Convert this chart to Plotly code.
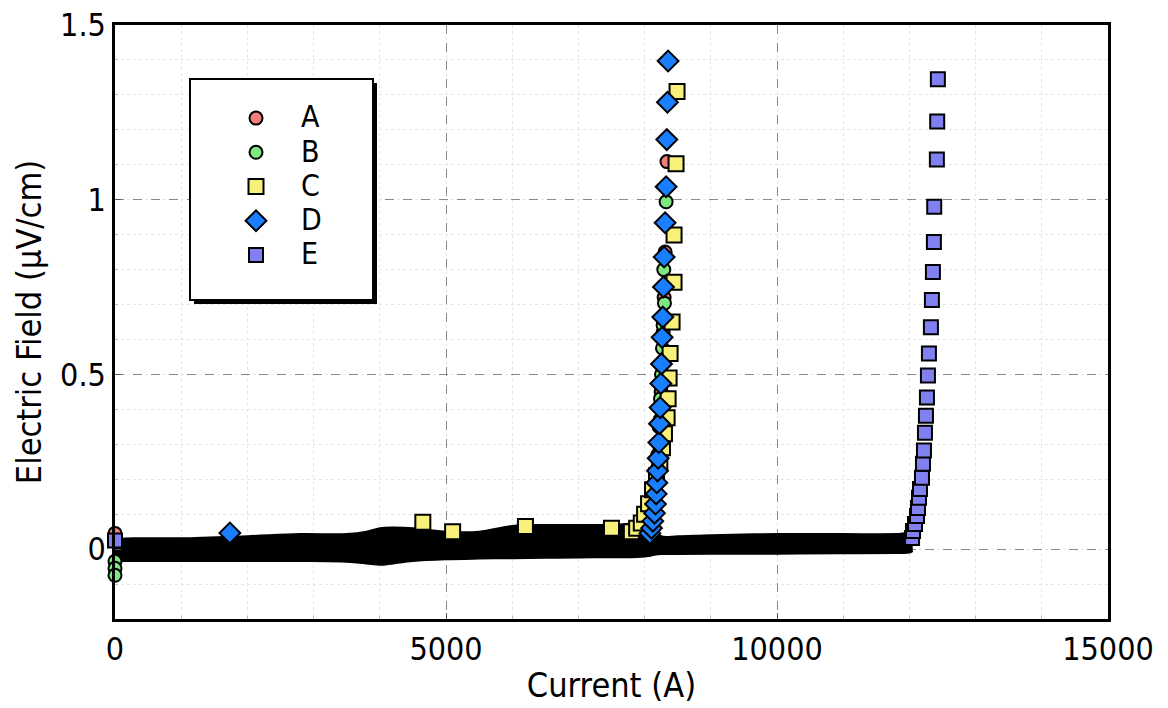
import plotly.graph_objects as go

# ---------------- data ----------------
series_names = ["A", "B", "C", "D", "E"]

a_current = [0, 8040, 8090, 8130, 8165, 8195, 8215, 8235, 8250, 8265, 8280, 8295, 8310, 8338]
a_field = [0.045, 0.05, 0.08, 0.12, 0.17, 0.23, 0.30, 0.37, 0.45, 0.53, 0.62, 0.72, 0.85, 1.109]

b_current = [0, 0, 0, 8050, 8100, 8140, 8170, 8200, 8220, 8240, 8255, 8270, 8280, 8300, 8290, 8325]
b_field = [-0.035, -0.055, -0.075, 0.05, 0.09, 0.14, 0.20, 0.27, 0.35, 0.43, 0.50, 0.575, 0.64, 0.704, 0.80, 0.994]

c_current = [4650, 5100, 6200, 7500, 7800, 7880, 7950, 8000, 8060, 8120, 8180, 8230, 8270,
             8300, 8340, 8355, 8370, 8385, 8415, 8445, 8445, 8475, 8490]
c_field = [0.077, 0.05, 0.065, 0.06, 0.05, 0.06, 0.075, 0.10, 0.13, 0.17, 0.21, 0.25, 0.29,
           0.33, 0.376, 0.43, 0.49, 0.56, 0.65, 0.764, 0.899, 1.103, 1.31]

d_current = [1735, 8080, 8105, 8125, 8150, 8165, 8175, 8185, 8195, 8205, 8215, 8225, 8235,
             8245, 8255, 8265, 8275, 8285, 8295, 8310, 8325, 8335, 8345, 8355]
d_field = [0.046, 0.045, 0.06, 0.08, 0.103, 0.129, 0.158, 0.19, 0.224, 0.26, 0.305, 0.359, 0.405,
           0.474, 0.53, 0.606, 0.664, 0.75, 0.836, 0.934, 1.037, 1.172, 1.279, 1.397]

e_current = [0, 12040, 12055, 12085, 12115, 12130, 12145, 12160, 12190, 12205, 12220, 12235, 12250,
             12265, 12280, 12295, 12325, 12340, 12355, 12370, 12375, 12415, 12420, 12430]
e_field = [0.025, 0.032, 0.052, 0.072, 0.095, 0.118, 0.147, 0.172, 0.204, 0.244, 0.282, 0.333, 0.382,
           0.434, 0.497, 0.56, 0.635, 0.713, 0.793, 0.879, 0.98, 1.115, 1.224, 1.345]

# envelope of the dense low-field data cloud (all samples overlap into a band)
band_current = [0, 300, 1000, 2000, 2800, 3500, 3800, 4000, 4200, 4500, 5000, 5500, 6000, 6500,
                7000, 7600, 7800, 7950, 8050, 8150, 8250, 8500, 9000, 10000, 11000, 11800, 12000, 12050]
band_upper = [0.029, 0.031, 0.031, 0.037, 0.043, 0.043, 0.05, 0.06, 0.062, 0.06, 0.05, 0.05, 0.066, 0.069,
              0.069, 0.07, 0.075, 0.09, 0.10, 0.06, 0.037, 0.037, 0.040, 0.043, 0.043, 0.043, 0.045, 0.03]
band_lower = [-0.034, -0.034, -0.034, -0.034, -0.034, -0.036, -0.041, -0.045, -0.041, -0.034, -0.029, -0.027,
              -0.026, -0.025, -0.024, -0.023, -0.023, -0.022, -0.02, -0.016, -0.014, -0.014, -0.013, -0.013,
              -0.012, -0.011, -0.010, -0.005]

x_ticks = [0, 5000, 10000, 15000]
y_ticks = [0, 0.5, 1, 1.5]

# ---------------- styles ----------------
FONT = "DejaVu Sans Condensed, DejaVu Sans, sans-serif"
styles = {
    "A": dict(symbol="circle", size=13, color="#f47c7c"),
    "B": dict(symbol="circle", size=13, color="#80e880"),
    "C": dict(symbol="square", size=15, color="#f7f07a"),
    "D": dict(symbol="diamond", size=16, color="#1a7fff"),
    "E": dict(symbol="square", size=14, color="#8080f0"),
}
data = {
    "A": (a_current, a_field),
    "B": (b_current, b_field),
    "C": (c_current, c_field),
    "D": (d_current, d_field),
    "E": (e_current, e_field),
}

W, H = 1168, 708
ML, MR, MT, MB = 115, 60, 25, 89
PW, PH = W - ML - MR, H - MT - MB


def px_to_paper(x, y):
    # picture pixel -> paper coordinates
    return (x - ML) / PW, (H - MB - y) / PH


fig = go.Figure()

# dense band of overlapping low-field samples
fig.add_trace(go.Scatter(x=band_current, y=band_upper, mode="lines",
                         line=dict(color="black", width=2, shape="spline"),
                         showlegend=False, hoverinfo="skip"))
fig.add_trace(go.Scatter(x=band_current, y=band_lower, mode="lines",
                         line=dict(color="black", width=2, shape="spline"),
                         fill="tonexty", fillcolor="black",
                         showlegend=False, hoverinfo="skip"))

for name in series_names:
    xs, ys = data[name]
    st = styles[name]
    fig.add_trace(go.Scatter(
        x=xs, y=ys, mode="markers",
        name='<span style="font-size:30px">' + name + "</span>",
        cliponaxis=False,
        marker=dict(symbol=st["symbol"], size=st["size"], color=st["color"],
                    line=dict(color="black", width=2)),
    ))

axis_common = dict(
    showline=True, linecolor="black", linewidth=2.5, mirror=True,
    ticks="inside", ticklen=6, tickcolor="#555", tickwidth=1,
    showgrid=True, gridcolor="#8a8a8a", griddash="dash", gridwidth=1,
    zeroline=False, ticklabeloverflow="allow", automargin=False,
    tickfont=dict(family=FONT, size=32, color="black"),
)

fig.update_xaxes(
    range=[0, 15000], tickvals=x_ticks, ticktext=[str(v) for v in x_ticks],
    title=dict(text="Current (A)", font=dict(family=FONT, size=34, color="black"), standoff=7),
    minor=dict(dtick=1000, tick0=0, showgrid=True, gridcolor="#e6e6e6", griddash="dot",
               ticks="inside", ticklen=3, tickcolor="#bbb"),
    **axis_common,
)
fig.update_yaxes(
    range=[-0.2, 1.5], tickvals=y_ticks, ticktext=["0", "0.5", "1", "1.5"],
    title=dict(text="Electric Field (\u03bcV/cm)", font=dict(family=FONT, size=34, color="black"), standoff=9),
    minor=dict(dtick=0.1, tick0=0, showgrid=True, gridcolor="#e6e6e6", griddash="dot",
               ticks="inside", ticklen=3, tickcolor="#bbb"),
    **axis_common,
)

# legend frame with drop shadow
sx0, sy1 = px_to_paper(194, 83)
sx1, sy0 = px_to_paper(377, 304)
fig.add_shape(type="rect", xref="paper", yref="paper", x0=sx0, x1=sx1, y0=sy0, y1=sy1,
              fillcolor="black", line=dict(width=0), layer="above")
bx0, by1 = px_to_paper(190, 79)
bx1, by0 = px_to_paper(373, 300)
fig.add_shape(type="rect", xref="paper", yref="paper", x0=bx0, x1=bx1, y0=by0, y1=by1,
              fillcolor="white", line=dict(color="black", width=2), layer="above")

lx, ly = px_to_paper(211, 96)
fig.update_layout(
    width=W, height=H,
    margin=dict(l=ML, r=MR, t=MT, b=MB, autoexpand=False),
    paper_bgcolor="white", plot_bgcolor="white",
    font=dict(family=FONT, color="black"),
    legend=dict(
        x=lx, y=ly, xanchor="left", yanchor="top",
        bgcolor="rgba(0,0,0,0)", borderwidth=0, traceorder="normal",
        font=dict(family=FONT, size=24, color="black"),
        itemwidth=80,
    ),
)

fig.write_html("out.html", config={"displayModeBar": False},
               post_script="document.body.style.margin='0';")
